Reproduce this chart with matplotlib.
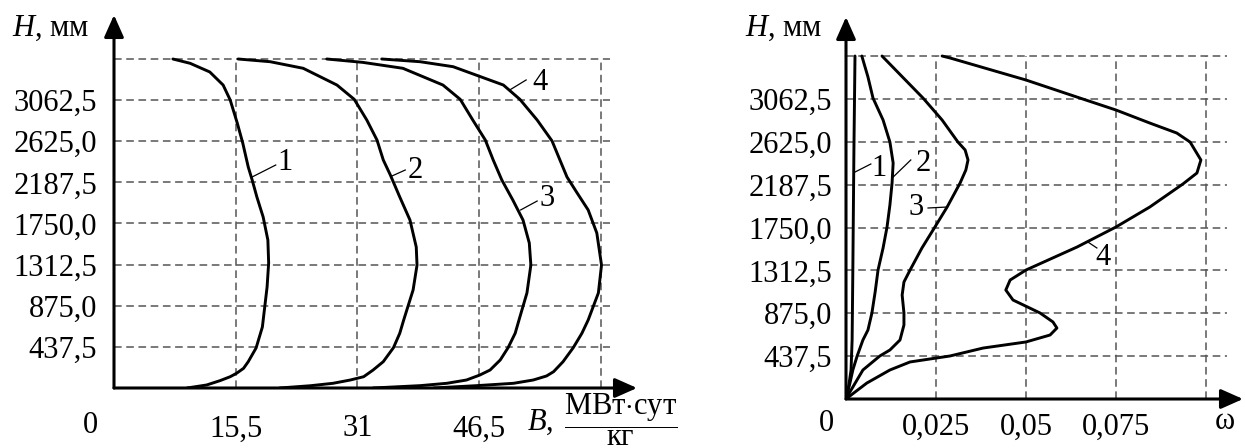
import matplotlib
matplotlib.use('Agg')
import matplotlib.pyplot as plt

plt.rcParams['font.family'] = ['Liberation Serif', 'DejaVu Serif']
plt.rcParams['mathtext.fontset'] = 'custom'
plt.rcParams['mathtext.rm'] = 'Liberation Serif'
plt.rcParams['mathtext.it'] = 'Liberation Serif:italic'

# --- data -------------------------------------------------------------
H_ticks = [437.5, 875.0, 1312.5, 1750.0, 2187.5, 2625.0, 3062.5]
H_labels = ['437,5', '875,0', '1312,5', '1750,0', '2187,5', '2625,0', '3062,5']
H_top = 3500

B_ticks = [15.5, 31, 46.5]
B_labels = ['15,5', '31', '46,5']
B_grid = [15.5, 31, 46.5, 62]

w_ticks = [0.025, 0.05, 0.075]
w_labels = ['0,025', '0,05', '0,075']
w_grid = [0.025, 0.05, 0.075, 0.1]

# left panel: B(H), MW*day/kg
H_b1 = [0, 32, 78, 120, 156, 209, 280, 426, 649, 862, 1074, 1330, 1574, 1819,
        2032, 2213, 2351, 2606, 2819, 3064, 3223, 3362, 3454, 3500]
B1 = [9.3, 11.8, 13.5, 14.8, 15.6, 16.5, 17.1, 18.1, 18.9, 19.2, 19.5, 19.7, 19.6,
      19.0, 18.2, 17.6, 17.1, 16.4, 15.7, 14.8, 13.9, 12.2, 9.7, 7.5]

H_b2 = [0, 24, 50, 85, 120, 191, 280, 429, 582, 723, 1043, 1308, 1500, 1787,
        2032, 2266, 2426, 2638, 2851, 3071, 3223, 3401, 3471, 3500]
B2 = [21.1, 25.0, 27.9, 30.1, 31.8, 33.0, 34.3, 35.6, 36.4, 36.9, 38.1, 38.6, 38.5,
      37.7, 36.4, 35.2, 34.3, 33.5, 32.2, 30.6, 28.4, 24.1, 19.9, 15.8]

H_b3 = [0, 25, 50, 85, 138, 191, 298, 429, 582, 755, 1011, 1308, 1542, 1787,
        2000, 2213, 2426, 2638, 2851, 3071, 3223, 3401, 3464, 3500]
B3 = [33.0, 39.0, 42.4, 44.9, 46.6, 47.9, 49.2, 50.2, 51.1, 51.7, 52.6, 53.1, 52.9,
      52.1, 50.8, 49.4, 48.3, 47.3, 45.7, 44.1, 41.9, 36.8, 31.7, 27.1]

H_b4 = [0, 25, 50, 85, 128, 174, 280, 429, 582, 723, 1011, 1308, 1649, 1894,
        2074, 2245, 2426, 2628, 2851, 3071, 3223, 3418, 3471, 3500]
B4 = [40.7, 46.2, 50.9, 53.4, 55.1, 56.0, 57.2, 58.5, 59.6, 60.4, 61.7, 62.1, 61.5,
      60.4, 59.0, 57.7, 56.8, 55.8, 53.9, 51.7, 49.6, 43.2, 39.0, 34.1]

# right panel: omega(H)
H_w1 = [0, 143, 296, 602, 1316, 2541, 3500]
W1 = [0, 0.0008, 0.0014, 0.0017, 0.0019, 0.0022, 0.0025]

H_w2 = [0, 163, 296, 439, 602, 704, 878, 1092, 1316, 1541, 1755, 1980, 2204,
        2408, 2622, 2847, 3071, 3286, 3500]
W2 = [0, 0.0011, 0.0019, 0.0031, 0.0047, 0.0061, 0.0072, 0.0081, 0.0089, 0.0103,
      0.0114, 0.0122, 0.0128, 0.0131, 0.0122, 0.0103, 0.0075, 0.0061, 0.0044]

H_w3 = [0, 41, 122, 296, 357, 439, 500, 602, 755, 878, 1061, 1194, 1316, 1541,
        1755, 1959, 2204, 2337, 2439, 2541, 2622, 2847, 3071, 3500]
W3 = [0, 0.0006, 0.0019, 0.0047, 0.0067, 0.0094, 0.0122, 0.0150, 0.0161, 0.0161,
      0.0156, 0.0161, 0.0178, 0.0211, 0.0247, 0.0281, 0.0317, 0.0333, 0.0339, 0.0331,
      0.0311, 0.0267, 0.0214, 0.0100]

H_w4 = [0, 71, 163, 296, 378, 439, 520, 582, 653, 724, 786, 878, 1010, 1112, 1214,
        1316, 1551, 1755, 1959, 2194, 2306, 2439, 2622, 2714, 2816, 2949, 3061,
        3255, 3480, 3500]
W4 = [0, 0.0025, 0.0058, 0.0122, 0.0178, 0.0289, 0.0381, 0.0500, 0.0567, 0.0586,
      0.0575, 0.0539, 0.0464, 0.0444, 0.0456, 0.0500, 0.0642, 0.0750, 0.0844, 0.0936,
      0.0975, 0.0986, 0.0956, 0.0919, 0.0844, 0.0750, 0.0658, 0.0500, 0.0289, 0.0267]

# --- figure -----------------------------------------------------------
W, Hpx = 1245, 448
fig = plt.figure(figsize=(W / 100, Hpx / 100), dpi=100)


def box(x0, x1, ytop, ybot):
    return [x0 / W, 1 - ybot / Hpx, (x1 - x0) / W, (ybot - ytop) / Hpx]


def px(x, y):
    return x / W, 1 - y / Hpx


FS = 22
grid_kw = dict(color='#555555', lw=1.1, linestyle=(0, (5, 3)), zorder=1)
line_kw = dict(color='black', lw=2.1, solid_capstyle='round', solid_joinstyle='round', zorder=3)
axis_arrow = dict(arrowstyle='-|>,head_length=0.9,head_width=0.4', lw=2.2,
                  color='black', shrinkA=0, shrinkB=0, mutation_scale=15)


def setup(ax, xmax, ymax, gx, gxmax, ypad):
    ax.set_xlim(0, xmax)
    ax.set_ylim(0, ymax)
    for s in ax.spines.values():
        s.set_visible(False)
    ax.set_yticks(H_ticks, H_labels)
    ax.tick_params(axis='y', length=0, pad=ypad, labelsize=FS)
    ax.hlines(H_ticks + [H_top], 0, gxmax, **grid_kw)
    ax.vlines(gx, 0, H_top, **grid_kw)
    ax.annotate('', xy=(1, 0), xytext=(0, 0), xycoords='axes fraction',
                arrowprops=axis_arrow, annotation_clip=False)
    ax.annotate('', xy=(0, 1), xytext=(0, 0), xycoords='axes fraction',
                arrowprops=axis_arrow, annotation_clip=False)


def tag(ax, text, p0, p1, pt):
    ax.plot([p0[0], p1[0]], [p0[1], p1[1]], color='black', lw=0.9, zorder=3)
    ax.text(pt[0], pt[1], text, fontsize=FS, ha='center', va='center')


# left panel
axL = fig.add_axes(box(114, 637, 15, 388))
setup(axL, 66.62, 3968, B_grid, 63.2, 12.2)
axL.set_xticks(B_ticks, B_labels)
axL.tick_params(axis='x', length=0, pad=19, labelsize=FS)
for Hs, Bs in [(H_b1, B1), (H_b2, B2), (H_b3, B3), (H_b4, B4)]:
    axL.plot(Bs, Hs, **line_kw)
tag(axL, '1', (17.6, 2245), (20.6, 2372), (21.8, 2394))
tag(axL, '2', (35.4, 2255), (37.1, 2319), (38.4, 2319))
tag(axL, '3', (51.8, 1894), (53.9, 1989), (55.2, 2021))
tag(axL, '4', (50.4, 3170), (52.5, 3277), (54.3, 3255))

# right panel
axR = fig.add_axes(box(846, 1243, 17, 399))
setup(axR, 0.1103, 3898, w_grid, 0.1058, 10)
axR.set_xticks(w_ticks, w_labels)
axR.tick_params(axis='x', length=0, pad=10, labelsize=FS)
for Hs, Ws in [(H_w1, W1), (H_w2, W2), (H_w3, W3), (H_w4, W4)]:
    axR.plot(Ws, Hs, **line_kw)
tag(axR, '1', (0.0025, 2316), (0.0069, 2398), (0.0092, 2357))
tag(axR, '2', (0.0131, 2265), (0.0180, 2439), (0.0215, 2408))
tag(axR, '3', (0.0228, 1949), (0.0281, 1959), (0.0196, 1959))
tag(axR, '4', (0.0672, 1602), (0.0697, 1541), (0.0713, 1439))

# axis titles and zero labels
fig.text(*px(12, 28), r'$H$, мм', fontsize=FS, ha='left', va='center')
fig.text(*px(745, 28), r'$H$, мм', fontsize=FS, ha='left', va='center')
fig.text(*px(90, 425), '0', fontsize=FS, ha='center', va='center')
fig.text(*px(826, 423), '0', fontsize=FS, ha='center', va='center')
fig.text(*px(1225, 421), 'ω', fontsize=FS, ha='center', va='center')
fig.text(*px(527, 422), r'$B$,', fontsize=FS, ha='left', va='center')
fig.text(*px(564, 447.5), r'$\dfrac{\mathrm{МВт{\cdot}сут}}{\mathrm{кг}}$',
         fontsize=FS, ha='left', va='bottom')

fig.savefig('out.png', dpi=100)
